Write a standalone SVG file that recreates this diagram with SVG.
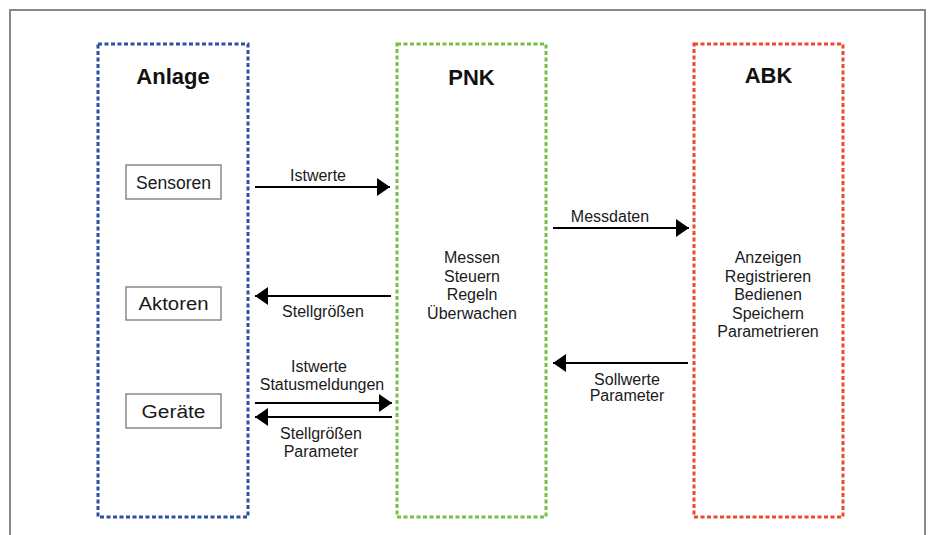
<svg xmlns="http://www.w3.org/2000/svg" width="931" height="535" viewBox="0 0 931 535">
<style>
.title{font-family:"Liberation Sans",Arial,sans-serif;font-size:22px;font-weight:bold;fill:#111;text-anchor:middle}
.lbl{font-family:"Liberation Sans",Arial,sans-serif;font-size:16px;fill:#1a1a1a;text-anchor:middle}
.box{font-family:"Liberation Sans",Arial,sans-serif;font-size:18px;fill:#1a1a1a;text-anchor:middle}
.grp{fill:none;stroke-width:3;stroke-dasharray:4 2.5}
.item{fill:#fff;stroke:#777;stroke-width:1.3}
.conn{stroke:#000;stroke-width:2;fill:none}
</style>
<defs>
<marker id="ah" viewBox="0 0 13 18" refX="13" refY="9" markerWidth="13" markerHeight="18" markerUnits="userSpaceOnUse" orient="auto">
<path d="M0,0 L13,9 L0,18 Z" fill="#000"/>
</marker>
</defs>
<rect width="931" height="535" fill="#fff"/>
<path d="M10,540 V10 H925 V540" fill="none" stroke="#888" stroke-width="2"/>

<g id="anlage">
<rect class="grp" x="98" y="44" width="150" height="473" stroke="#2f4ea6"/>
<text class="title" x="173" y="84">Anlage</text>
</g>
<g id="sensoren">
<rect class="item" x="126" y="165" width="95" height="34"/>
<text class="box" x="173.5" y="189" textLength="75" lengthAdjust="spacingAndGlyphs">Sensoren</text>
</g>
<g id="aktoren">
<rect class="item" x="126" y="287" width="95" height="33"/>
<text class="box" x="173.5" y="310" textLength="70" lengthAdjust="spacingAndGlyphs">Aktoren</text>
</g>
<g id="geraete">
<rect class="item" x="126" y="394" width="95" height="34"/>
<text class="box" x="173.5" y="418" textLength="64" lengthAdjust="spacingAndGlyphs">Geräte</text>
</g>

<g id="pnk">
<rect class="grp" x="397" y="44" width="149" height="473" stroke="#78c043"/>
<text class="title" x="471.5" y="85">PNK</text>
<text class="lbl" x="472" y="263">Messen</text>
<text class="lbl" x="472" y="281.5">Steuern</text>
<text class="lbl" x="472" y="300">Regeln</text>
<text class="lbl" x="472" y="318.5">Überwachen</text>
</g>

<g id="abk">
<rect class="grp" x="694" y="44" width="149" height="473" stroke="#ec4a2e"/>
<text class="title" x="768.5" y="83">ABK</text>
<text class="lbl" x="768" y="263">Anzeigen</text>
<text class="lbl" x="768" y="281.5">Registrieren</text>
<text class="lbl" x="768" y="300">Bedienen</text>
<text class="lbl" x="768" y="318.5">Speichern</text>
<text class="lbl" x="768" y="337">Parametrieren</text>
</g>

<g id="connectors">
<line class="conn" x1="255" y1="187" x2="390" y2="187" marker-end="url(#ah)"/>
<text class="lbl" x="318" y="181">Istwerte</text>

<line class="conn" x1="391" y1="296" x2="255" y2="296" marker-end="url(#ah)"/>
<text class="lbl" x="323" y="317">Stellgrößen</text>

<line class="conn" x1="255" y1="403" x2="392" y2="403" marker-end="url(#ah)"/>
<line class="conn" x1="392" y1="417" x2="255" y2="417" marker-end="url(#ah)"/>
<text class="lbl" x="319" y="372">Istwerte</text>
<text class="lbl" x="322" y="390">Statusmeldungen</text>
<text class="lbl" x="321" y="439">Stellgrößen</text>
<text class="lbl" x="321" y="457">Parameter</text>

<line class="conn" x1="553" y1="228" x2="689" y2="228" marker-end="url(#ah)"/>
<text class="lbl" x="610" y="222">Messdaten</text>

<line class="conn" x1="688" y1="363" x2="553" y2="363" marker-end="url(#ah)"/>
<text class="lbl" x="627" y="385">Sollwerte</text>
<text class="lbl" x="627" y="401">Parameter</text>
</g>
</svg>
